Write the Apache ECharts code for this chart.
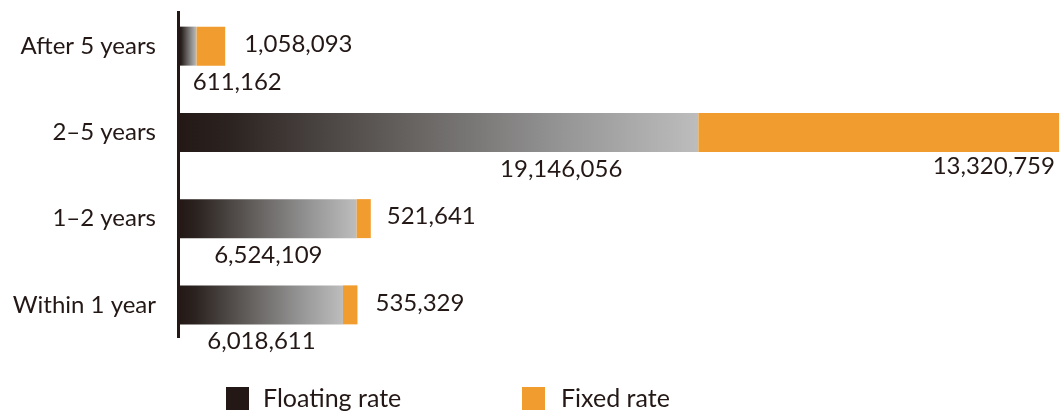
<!DOCTYPE html>
<html>
<head>
<meta charset="utf-8">
<script src="https://cdn.jsdelivr.net/npm/echarts@6/dist/echarts.min.js"></script>
<style>
  html, body { margin: 0; padding: 0; background: #ffffff; }
  #chart { width: 1060px; height: 412px; }
</style>
</head>
<body>
<div id="chart"></div>
<script>
// ---- data ----
const categories = ['Within 1 year', '1–2 years', '2–5 years', 'After 5 years'];
const floatingRate = [6018611, 6524109, 19146056, 611162];
const fixedRate = [535329, 521641, 13320759, 1058093];
const seriesNames = ['Floating rate', 'Fixed rate'];

// ---- styles (label placement per bar) ----
const textColor = '#231815';
const orange = '#F19C2E';
const font = 'Lato, "Open Sans", sans-serif';
const floatingLabelStyle = [
  { position: 'bottom', distance: 5, offset: [0, 0] },
  { position: 'bottom', distance: 5, offset: [0, 0] },
  { position: 'bottom', distance: 5, offset: [122, 0] },
  { position: 'bottom', distance: 5, offset: [49, 0] }
];
const fixedLabelStyle = [
  { position: 'right', distance: 18, offset: [0, -2] },
  { position: 'right', distance: 16, offset: [0, -2] },
  { position: 'bottom', distance: 2, offset: [115, 0] },
  { position: 'right', distance: 19, offset: [0, -2] }
];

const fmt = v => v.toLocaleString('en-US');
const floatGradient = new echarts.graphic.LinearGradient(0, 0, 1, 0, [
  { offset: 0, color: '#231815' },
  { offset: 0.1, color: '#2c2421' },
  { offset: 0.4, color: '#5f5b59' },
  { offset: 0.75, color: '#979797' },
  { offset: 1, color: '#bdbdbd' }
]);

const chart = echarts.init(document.getElementById('chart'), null, { renderer: 'canvas' });
chart.setOption({
  animation: false,
  textStyle: { fontFamily: font },
  grid: { left: 180, right: 0, top: 3, bottom: 64, containLabel: false },
  xAxis: { type: 'value', min: 0, max: 32500000, show: false },
  yAxis: {
    type: 'category',
    data: categories,
    axisLine: { show: false },
    axisTick: { show: false },
    axisLabel: { margin: 24, fontSize: 24, color: textColor, fontFamily: font }
  },
  legend: [
    {
      data: [{ name: seriesNames[0], itemStyle: { color: '#231815' } }],
      left: 226, top: 386, itemWidth: 23, itemHeight: 23, icon: 'rect',
      padding: 0,
      textStyle: { fontSize: 25, color: textColor, fontFamily: font, padding: [0, 0, 0, 9] }
    },
    {
      data: [{ name: seriesNames[1], itemStyle: { color: orange } }],
      left: 522, top: 386, itemWidth: 23, itemHeight: 23, icon: 'rect',
      padding: 0,
      textStyle: { fontSize: 25, color: textColor, fontFamily: font, padding: [0, 0, 0, 11] }
    }
  ],
  graphic: [{
    type: 'line',
    shape: { x1: 178.5, y1: 11, x2: 178.5, y2: 338 },
    style: { stroke: '#231815', lineWidth: 3 },
    z: 10
  }],
  series: [
    {
      name: seriesNames[0],
      type: 'bar',
      stack: 'total',
      barWidth: 39,
      itemStyle: { color: floatGradient },
      label: { show: true, fontSize: 24, color: textColor, fontFamily: font, formatter: p => fmt(p.value) },
      data: floatingRate.map((v, i) => ({ value: v, label: floatingLabelStyle[i] }))
    },
    {
      name: seriesNames[1],
      type: 'bar',
      stack: 'total',
      barWidth: 39,
      itemStyle: { color: orange },
      label: { show: true, fontSize: 24, color: textColor, fontFamily: font, formatter: p => fmt(p.value) },
      data: fixedRate.map((v, i) => ({ value: v, label: fixedLabelStyle[i] }))
    }
  ]
});
</script>
</body>
</html>
